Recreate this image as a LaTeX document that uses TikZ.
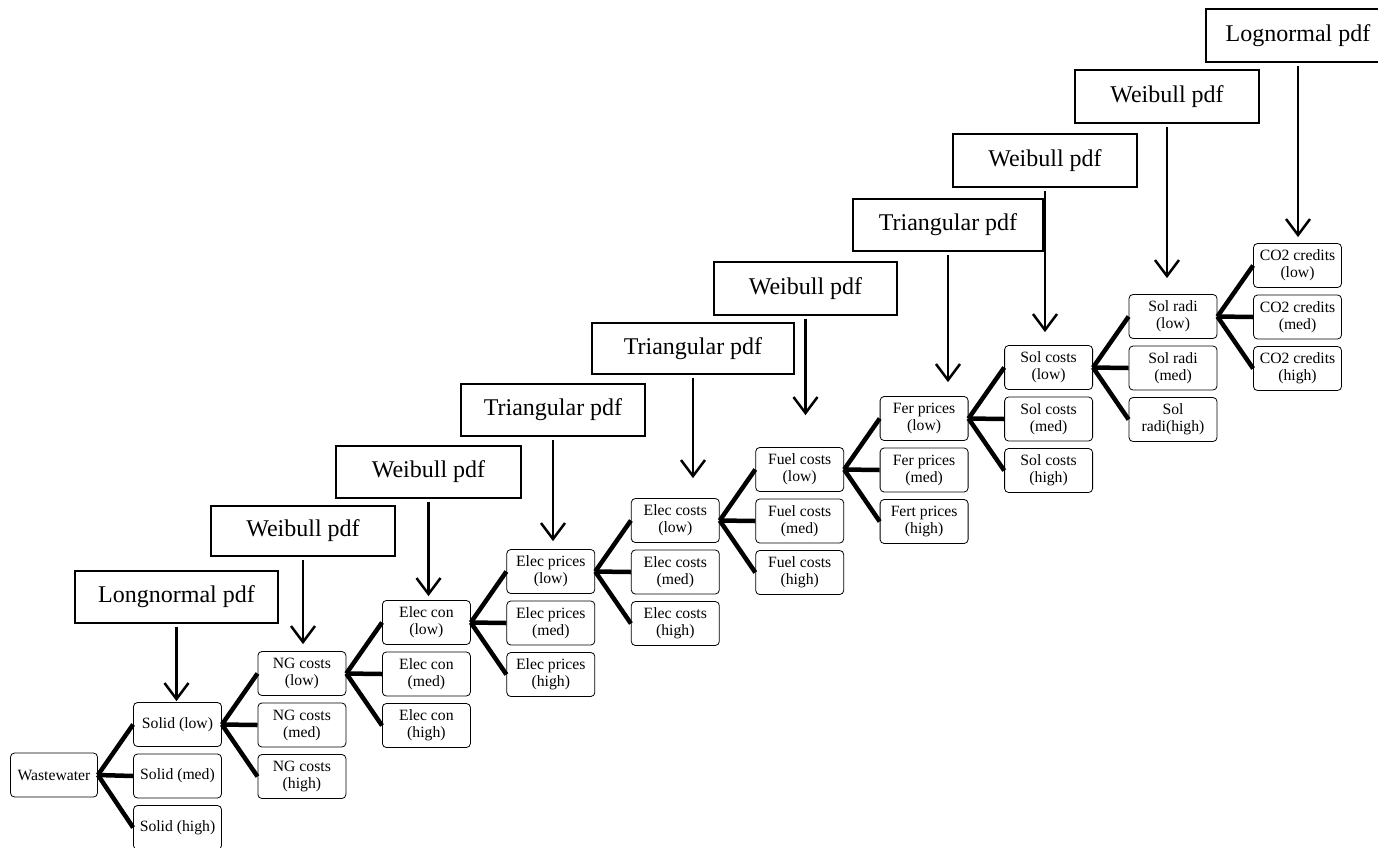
\documentclass[tikz,border=0pt]{standalone}
\usepackage{fontspec}
\setmainfont{Liberation Serif}
\usetikzlibrary{arrows.meta}
\begin{document}
\begin{tikzpicture}[x=1pt,y=-1pt,
  leaf/.style={draw=black, line width=0.8pt, rounded corners=4pt,
    minimum width=88pt, minimum height=44pt, inner sep=1pt, align=center,
    font=\fontsize{15.7}{17}\selectfont},
  dist/.style={draw=black, line width=2pt, inner sep=0pt,
    font=\fontsize{24}{28}\selectfont},
  branch/.style={line width=4.5pt},
  feed/.style={line width=2.5pt, -{Straight Barb[length=16pt,width=24pt]}, shorten <=3pt},
]
\useasboundingbox (0,0) rectangle (1378,847);
\clip (0,0) rectangle (1378,847);

% root of the scenario tree
\node[leaf, minimum width=87pt] (w) at (54,775) {Wastewater};

% scenario levels (low / med / high) of each uncertain parameter
\node[leaf] (c1-a) at (177.5,724.5) {Solid (low)};
\node[leaf] (c1-b) at (177.5,776)   {Solid (med)};
\node[leaf] (c1-c) at (177.5,827.5) {Solid (high)};

\node[leaf] (c2-a) at (301.9,673.5) {NG costs\\(low)};
\node[leaf] (c2-b) at (301.9,725)   {NG costs\\(med)};
\node[leaf] (c2-c) at (301.9,776.5) {NG costs\\(high)};

\node[leaf] (c3-a) at (426.4,622.5) {Elec con\\(low)};
\node[leaf] (c3-b) at (426.4,674)   {Elec con\\(med)};
\node[leaf] (c3-c) at (426.4,725.5) {Elec con\\(high)};

\node[leaf] (c4-a) at (550.8,571.5) {Elec prices\\(low)};
\node[leaf] (c4-b) at (550.8,623)   {Elec prices\\(med)};
\node[leaf] (c4-c) at (550.8,674.5) {Elec prices\\(high)};

\node[leaf] (c5-a) at (675.3,520.5) {Elec costs\\(low)};
\node[leaf] (c5-b) at (675.3,572)   {Elec costs\\(med)};
\node[leaf] (c5-c) at (675.3,623.5) {Elec costs\\(high)};

\node[leaf] (c6-a) at (799.7,469.5) {Fuel costs\\(low)};
\node[leaf] (c6-b) at (799.7,521)   {Fuel costs\\(med)};
\node[leaf] (c6-c) at (799.7,572.5) {Fuel costs\\(high)};

\node[leaf] (c7-a) at (924.1,418.5) {Fer prices\\(low)};
\node[leaf] (c7-b) at (924.1,470)   {Fer prices\\(med)};
\node[leaf] (c7-c) at (924.1,521.5) {Fert prices\\(high)};

\node[leaf] (c8-a) at (1048.6,367.5) {Sol costs\\(low)};
\node[leaf] (c8-b) at (1048.6,419)   {Sol costs\\(med)};
\node[leaf] (c8-c) at (1048.6,470.5) {Sol costs\\(high)};

\node[leaf] (c9-a) at (1173,316.5) {Sol radi\\(low)};
\node[leaf] (c9-b) at (1173,368)   {Sol radi\\(med)};
\node[leaf] (c9-c) at (1173,419.5) {Sol\\radi(high)};

\node[leaf] (c10-a) at (1297.5,265.5) {CO2 credits\\(low)};
\node[leaf] (c10-b) at (1297.5,317)   {CO2 credits\\(med)};
\node[leaf] (c10-c) at (1297.5,368.5) {CO2 credits\\(high)};

% probability distributions
\node[dist, minimum width=203pt, minimum height=52pt] (d1)  at (176.5,597)  {Longnormal pdf};
\node[dist, minimum width=184pt, minimum height=50pt] (d2)  at (303,531)    {Weibull pdf};
\node[dist, minimum width=185pt, minimum height=52pt] (d3)  at (428.5,472)  {Weibull pdf};
\node[dist, minimum width=184pt, minimum height=52pt] (d4)  at (553,410)    {Triangular pdf};
\node[dist, minimum width=202pt, minimum height=51pt] (d5)  at (693,348.5)  {Triangular pdf};
\node[dist, minimum width=183pt, minimum height=53pt] (d6)  at (805.5,288.5){Weibull pdf};
\node[dist, minimum width=190pt, minimum height=52pt] (d7)  at (948,225)    {Triangular pdf};
\node[dist, minimum width=184pt, minimum height=53pt] (d8)  at (1045,160.5) {Weibull pdf};
\node[dist, minimum width=184pt, minimum height=53pt] (d9)  at (1167,96.5)  {Weibull pdf};
\node[dist, minimum width=184pt, minimum height=53pt] (d10) at (1298,35.5)  {Lognormal pdf};

% tree branches: each "low" node splits into the next parameter's levels
\foreach \p/\k in {w/1, c1-a/2, c2-a/3, c3-a/4, c4-a/5, c5-a/6, c6-a/7, c7-a/8, c8-a/9, c9-a/10}
  \foreach \j in {a,b,c}
    \draw[branch] (\p.east) -- (c\k-\j.west);

% distributions feeding their parameter
\foreach \k/\g in {1/1, 2/7, 3/4, 4/8, 5/20, 6/32, 7/14, 8/13, 9/16, 10/6}
  \draw[feed, shorten >=\g pt] (d\k.south) -- (d\k.south |- c\k-a.north);
\end{tikzpicture}
\end{document}
